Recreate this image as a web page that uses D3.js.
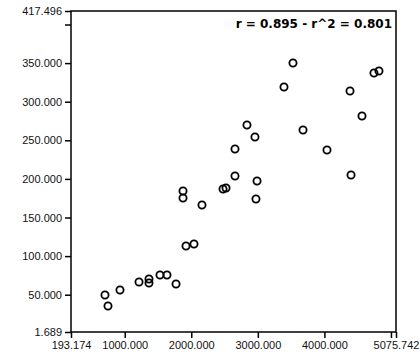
<!DOCTYPE html>
<html>
<head>
<meta charset="utf-8">
<script src="https://cdn.jsdelivr.net/npm/d3@7"></script>
<style>
  body { margin: 0; background: #fff; }
  svg { display: block; }
</style>
</head>
<body>
<div id="chart"></div>
<script>
// data
var xValues = [704, 749, 929, 1215, 1365, 1365, 1530, 1635, 1771, 1921, 2041, 1876, 1876, 2161,
  2477, 2522, 2657, 2988, 2972, 2657, 2837, 2957, 3393, 3528, 3679, 4039, 4385, 4400, 4565, 4745, 4820]
var yValues = [49.6, 35.4, 56.1, 66.5, 70.3, 65.2, 75.5, 75.5, 63.9, 113.1, 115.7, 184.3, 175.3, 166.2,
  186.9, 188.2, 203.8, 197.3, 174.0, 238.7, 269.8, 254.3, 319.0, 350.1, 263.3, 237.4, 313.9, 205.1, 281.5, 337.2, 339.8]
var xDomain = [193.174, 5075.742]
var yDomain = [1.689, 417.496]
var xTicks = [193.174, 1000, 2000, 3000, 4000, 5000, 5075.742]
var yTicks = [1.689, 50, 100, 150, 200, 250, 300, 350, 400, 417.496]
var hiddenTicks = [5000, 400]   // ticks drawn without label
var note = "r = 0.895 - r^2 = 0.801"

var W = 420, H = 360
var plotL = 71, plotR = 396, plotT = 11, plotB = 332

var svg = d3.select("#chart").append("svg")
  .attr("width", W)
  .attr("height", H)

var x = d3.scaleLinear().domain(xDomain).range([plotL, plotR])
var y = d3.scaleLinear().domain(yDomain).range([plotB, plotT])

var fmt = function (v) {
  if (hiddenTicks.indexOf(v) >= 0) return ""
  return d3.format(".3f")(v)
}

// axes
svg.append("g")
  .attr("transform", "translate(0," + plotB + ")")
  .call(d3.axisBottom(x).tickValues(xTicks).tickFormat(fmt).tickSize(6).tickPadding(3))
svg.append("g")
  .attr("transform", "translate(" + plotL + ",0)")
  .call(d3.axisLeft(y).tickValues(yTicks).tickFormat(fmt).tickSize(6).tickPadding(3))

svg.selectAll(".domain").remove()
svg.selectAll(".tick line").attr("stroke", "#000").attr("stroke-width", 1.5)
svg.selectAll(".tick text")
  .attr("fill", "#111")
  .style("font-family", "'Liberation Sans', Arial, sans-serif")
  .style("font-size", "11px")

// frame
svg.append("rect")
  .attr("x", plotL)
  .attr("y", plotT)
  .attr("width", plotR - plotL)
  .attr("height", plotB - plotT)
  .attr("fill", "none")
  .attr("stroke", "#000")
  .attr("stroke-width", 1.5)

// points
svg.append("g").selectAll("circle")
  .data(xValues)
  .enter()
  .append("circle")
  .attr("cx", function (d) { return x(d) })
  .attr("cy", function (d, i) { return y(yValues[i]) })
  .attr("r", 3.6)
  .attr("fill", "none")
  .attr("stroke", "#000")
  .attr("stroke-width", 1.8)

// correlation note
svg.append("text")
  .attr("x", plotR - 4)
  .attr("y", plotT + 17)
  .attr("text-anchor", "end")
  .style("font-family", "'DejaVu Sans', sans-serif")
  .style("font-weight", "bold")
  .style("font-size", "12px")
  .attr("fill", "#000")
  .text(note)
</script>
</body>
</html>
